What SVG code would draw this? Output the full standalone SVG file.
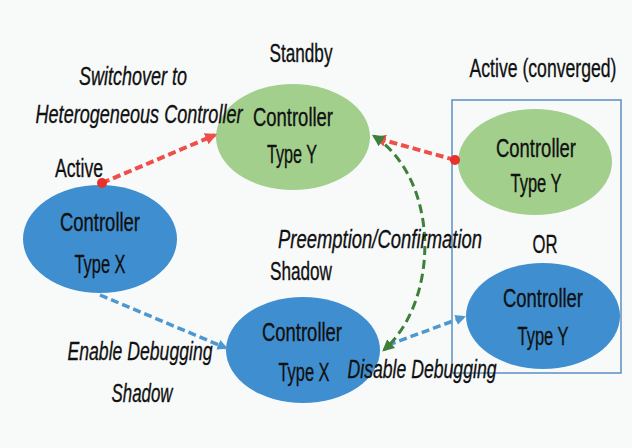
<svg xmlns="http://www.w3.org/2000/svg" width="632" height="448" viewBox="0 0 632 448">
<style>
  .t { font-family: "Liberation Sans", Arial, sans-serif; font-size: 26px; fill: #111; stroke: #111; stroke-width: 0.35; text-anchor: middle; }
  .i { font-style: italic; }
  .green { fill: #a2cf8c; }
  .blue { fill: #3f8fd0; }
  .red { stroke: #ee4f4a; stroke-width: 4; fill: none; stroke-dasharray: 8 4; }
  .bl { stroke: #4e98cf; stroke-width: 3.5; fill: none; stroke-dasharray: 8 4; }
  .gr { stroke: #3e7f3a; stroke-width: 3; fill: none; stroke-dasharray: 9 5; }
</style>
<defs>
  <marker id="ar" viewBox="0 0 10 10" refX="8" refY="5" markerWidth="3" markerHeight="3" orient="auto-start-reverse"><path d="M0,0 L10,5 L0,10 z" fill="#ee4f4a"/></marker>
  <marker id="ab" viewBox="0 0 10 10" refX="8" refY="5" markerWidth="3" markerHeight="3" orient="auto-start-reverse"><path d="M0,0 L10,5 L0,10 z" fill="#4e98cf"/></marker>
  <marker id="ag" viewBox="0 0 10 10" refX="8" refY="5" markerWidth="4" markerHeight="4" orient="auto-start-reverse"><path d="M0,0 L10,5 L0,10 z" fill="#3e7f3a"/></marker>
  <marker id="dr" viewBox="0 0 10 10" refX="5" refY="5" markerWidth="2.5" markerHeight="2.5"><circle cx="5" cy="5" r="5" fill="#e8302c"/></marker>
</defs>
<rect width="632" height="448" fill="#f8fafa"/>

<rect id="converged-box" x="452" y="100" width="169" height="273" fill="none" stroke="#5b8fc2" stroke-width="1.5"/>

<g id="standby-y">
  <ellipse class="green" cx="293" cy="137" rx="77" ry="53"/>
  <text class="t" x="293" y="126" textLength="80" lengthAdjust="spacingAndGlyphs">Controller</text>
  <text class="t" x="292" y="163" textLength="50" lengthAdjust="spacingAndGlyphs">Type Y</text>
</g>
<g id="active-x">
  <ellipse class="blue" cx="100" cy="239" rx="77" ry="54"/>
  <text class="t" x="100" y="231" textLength="80" lengthAdjust="spacingAndGlyphs">Controller</text>
  <text class="t" x="100" y="273" textLength="51" lengthAdjust="spacingAndGlyphs">Type X</text>
</g>
<g id="shadow-x">
  <ellipse class="blue" cx="303" cy="350" rx="77" ry="53"/>
  <text class="t" x="302" y="341" textLength="80" lengthAdjust="spacingAndGlyphs">Controller</text>
  <text class="t" x="304" y="381" textLength="51" lengthAdjust="spacingAndGlyphs">Type X</text>
</g>
<g id="converged-y-green">
  <ellipse class="green" cx="535" cy="162" rx="77" ry="53"/>
  <text class="t" x="536" y="157" textLength="80" lengthAdjust="spacingAndGlyphs">Controller</text>
  <text class="t" x="536" y="192" textLength="51" lengthAdjust="spacingAndGlyphs">Type Y</text>
</g>
<g id="converged-y-blue">
  <ellipse class="blue" cx="543" cy="316" rx="77" ry="53"/>
  <text class="t" x="543" y="307" textLength="80" lengthAdjust="spacingAndGlyphs">Controller</text>
  <text class="t" x="543" y="345" textLength="51" lengthAdjust="spacingAndGlyphs">Type Y</text>
</g>

<g id="connectors">
  <line class="red" x1="102" y1="183" x2="215" y2="135" marker-start="url(#dr)" marker-end="url(#ar)"/>
  <line class="red" x1="455" y1="160" x2="376" y2="138" marker-start="url(#dr)" marker-end="url(#ar)"/>
  <line class="bl" x1="100" y1="295" x2="226" y2="348" marker-end="url(#ab)"/>
  <line class="bl" x1="388" y1="345" x2="464" y2="317" marker-end="url(#ab)"/>
  <path class="gr" d="M 374 136 C 440 180, 440 300, 384 350" marker-start="url(#ag)" marker-end="url(#ag)"/>
</g>

<g id="labels">
  <text class="t" x="301" y="62" textLength="63" lengthAdjust="spacingAndGlyphs">Standby</text>
  <text class="t i" x="133" y="85" textLength="108" lengthAdjust="spacingAndGlyphs">Switchover to</text>
  <text class="t i" x="139" y="123" textLength="207" lengthAdjust="spacingAndGlyphs">Heterogeneous Controller</text>
  <text class="t" x="79" y="177" textLength="48" lengthAdjust="spacingAndGlyphs">Active</text>
  <text class="t" x="543" y="77" textLength="147" lengthAdjust="spacingAndGlyphs">Active (converged)</text>
  <text class="t i" x="380" y="248" textLength="204" lengthAdjust="spacingAndGlyphs">Preemption/Confirmation</text>
  <text class="t" x="301" y="280" textLength="62" lengthAdjust="spacingAndGlyphs">Shadow</text>
  <text class="t" x="545" y="253" textLength="25" lengthAdjust="spacingAndGlyphs">OR</text>
  <text class="t i" x="140" y="360" textLength="145" lengthAdjust="spacingAndGlyphs">Enable Debugging</text>
  <text class="t i" x="142" y="402" textLength="61" lengthAdjust="spacingAndGlyphs">Shadow</text>
  <text class="t i" x="422" y="378" textLength="149" lengthAdjust="spacingAndGlyphs">Disable Debugging</text>
</g>
</svg>
